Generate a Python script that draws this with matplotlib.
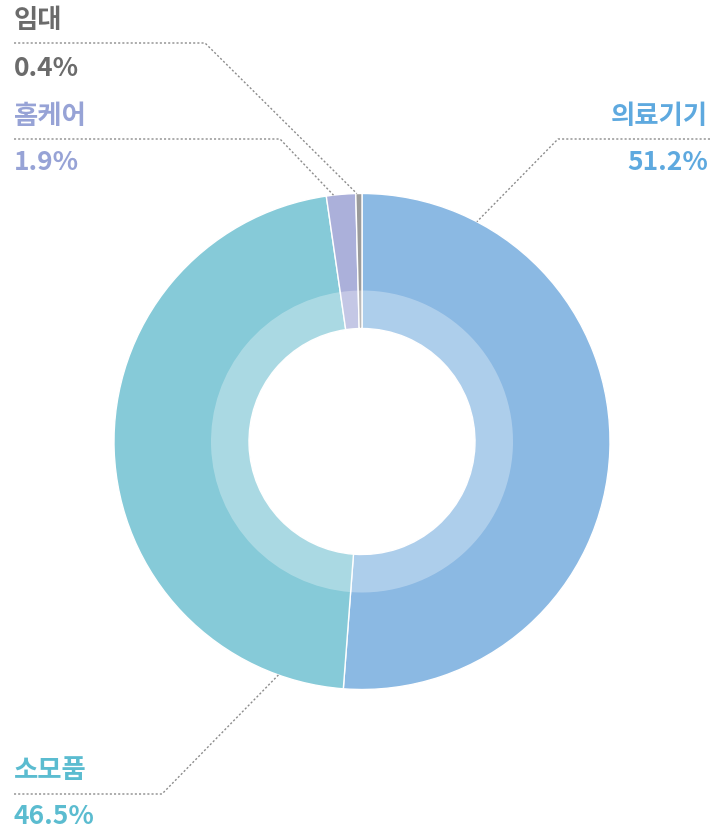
import matplotlib
matplotlib.use("Agg")
import matplotlib.pyplot as plt
import numpy as np

plt.rcParams["font.family"] = ["Noto Sans CJK KR", "DejaVu Sans"]

# data
categories = ["의료기기", "소모품", "홈케어", "임대"]
shares = [51.2, 46.5, 1.9, 0.4]
pct_labels = ["51.2%", "46.5%", "1.9%", "0.4%"]
colors = ["#8bb9e3", "#86cad8", "#abb0da", "#9b9b9b"]
text_colors = ["#5ea9df", "#5bbcd0", "#97a3d6", "#6b6b6b"]

W, H = 714, 831
CX, CY = 362, H - 441.5
R_OUT, R_BAND, R_IN = 248, 151, 113

# label layout: (text x, name y, pct y, align, line y, elbow x, line end x, anchor angle deg)
layout = {
    "의료기기": (708, 116, 163, "right", 139, 558, 710, 62.4),
    "소모품": (14, 770, 817, "left", 794, 162, 14, 250.3),
    "홈케어": (14, 117, 162, "left", 139, 280, 14, 96.6),
    "임대": (14, 21, 68, "left", 43, 205, 14, 91.2),
}

fig = plt.figure(figsize=(W / 100, H / 100), dpi=100)
ax = fig.add_axes([0, 0, 1, 1])

ax.pie(shares, colors=colors, startangle=90, counterclock=False,
       center=(CX, CY), radius=R_OUT, frame=True,
       wedgeprops=dict(width=R_OUT - R_IN, edgecolor="white", linewidth=1))
ax.pie(shares, colors=["white"] * len(shares), startangle=90, counterclock=False,
       center=(CX, CY), radius=R_BAND, frame=True,
       wedgeprops=dict(width=R_BAND - R_IN, edgecolor="none", alpha=0.3))

for name, pct, tc in zip(categories, pct_labels, text_colors):
    tx, ny, py, ha, ly, ex, lx, ang = layout[name]
    a = np.deg2rad(ang)
    ax_, ay_ = CX + R_OUT * np.cos(a), CY + R_OUT * np.sin(a)
    ax.plot([lx, ex, ax_], [H - ly, H - ly, ay_], color="#8c8c8c",
            lw=1, ls=(0, (1.5, 1.5)), zorder=5)
    ax.text(tx, H - ny, name, color=tc, fontsize=19, fontweight="bold",
            ha=ha, va="center")
    ax.text(tx, H - py, pct, color=tc, fontsize=19, fontweight="bold",
            ha=ha, va="center")

ax.set_xlim(0, W)
ax.set_ylim(0, H)
ax.set_aspect("equal")
ax.axis("off")

fig.savefig("out.png", dpi=100)
